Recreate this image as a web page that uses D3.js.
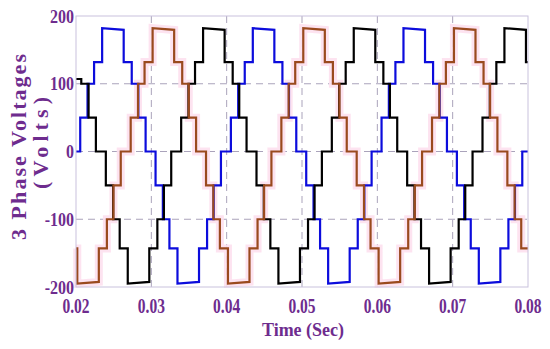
<!DOCTYPE html>
<html><head><meta charset="utf-8">
<script src="https://cdn.jsdelivr.net/npm/d3@7"></script>
<style>body{margin:0;background:#fff}svg{display:block}</style>
</head><body>
<svg id="c" width="550" height="349"></svg>
<script>
// x: time (s), y: volts. Each series: segment start times (last = end) and level per segment;
// a pair [a,b] means the level drifts from a to b across that segment.
const xTicks = [0.02, 0.03, 0.04, 0.05, 0.06, 0.07, 0.08];
const xTickLabels = ["0.02", "0.03", "0.04", "0.05", "0.06", "0.07", "0.08"];
const yTicks = [-200, -100, 0, 100, 200];
const yTickLabels = ["-200", "-100", "0", "100", "200"];

const blueT = [0.02,
  0.02056, 0.02153, 0.02240, 0.02347, 0.02633, 0.02740, 0.02827, 0.02924,
  0.03056, 0.03153, 0.03240, 0.03347, 0.03633, 0.03740, 0.03827, 0.03924,
  0.04056, 0.04153, 0.04240, 0.04347, 0.04633, 0.04740, 0.04827, 0.04924,
  0.05056, 0.05153, 0.05240, 0.05347, 0.05633, 0.05740, 0.05827, 0.05924,
  0.06056, 0.06153, 0.06240, 0.06347, 0.06633, 0.06740, 0.06827, 0.06924,
  0.07056, 0.07153, 0.07240, 0.07347, 0.07633, 0.07740, 0.07827, 0.07924, 0.08];
const blueV = [0,
  50, 100, 132, [182, 179.5], 132, 100, 50, 0,
  -50, -100, -143, [-195, -192.5], -143, -100, -50, 0,
  50, 100, 132, [182, 179.5], 132, 100, 50, 0,
  -50, -100, -143, [-195, -192.5], -143, -100, -50, 0,
  50, 100, 132, [182, 179.5], 132, 100, 50, 0,
  -50, -100, -143, [-195, -192.5], -143, -100, -50, 0];

const redT = [0.02, 0.02017, 0.02303, 0.02410, 0.02497, 0.02594,
  0.02726, 0.02823, 0.02910, 0.03017, 0.03303, 0.03410, 0.03497, 0.03594,
  0.03726, 0.03823, 0.03910, 0.04017, 0.04303, 0.04410, 0.04497, 0.04594,
  0.04726, 0.04823, 0.04910, 0.05017, 0.05303, 0.05410, 0.05497, 0.05594,
  0.05726, 0.05823, 0.05910, 0.06017, 0.06303, 0.06410, 0.06497, 0.06594,
  0.06726, 0.06823, 0.06910, 0.07017, 0.07303, 0.07410, 0.07497, 0.07594,
  0.07726, 0.07823, 0.07910, 0.08];
const redV = [-143, [-195, -192.5], -143, -100, -50, 0,
  50, 100, 132, [182, 179.5], 132, 100, 50, 0,
  -50, -100, -143, [-195, -192.5], -143, -100, -50, 0,
  50, 100, 132, [182, 179.5], 132, 100, 50, 0,
  -50, -100, -143, [-195, -192.5], -143, -100, -50, 0,
  50, 100, 132, [182, 179.5], 132, 100, 50, 0,
  -50, -100, -143];

const blackT = [0.02, 0.0207, 0.02167, 0.02264,
  0.02396, 0.02493, 0.02580, 0.02687, 0.02973, 0.03080, 0.03167, 0.03264,
  0.03396, 0.03493, 0.03580, 0.03687, 0.03973, 0.04080, 0.04167, 0.04264,
  0.04396, 0.04493, 0.04580, 0.04687, 0.04973, 0.05080, 0.05167, 0.05264,
  0.05396, 0.05493, 0.05580, 0.05687, 0.05973, 0.06080, 0.06167, 0.06264,
  0.06396, 0.06493, 0.06580, 0.06687, 0.06973, 0.07080, 0.07167, 0.07264,
  0.07396, 0.07493, 0.07580, 0.07687, 0.07973, 0.08];
const blackV = [107, 100, 50, 0,
  -50, -100, -143, [-195, -192.5], -143, -100, -50, 0,
  50, 100, 132, [182, 179.5], 132, 100, 50, 0,
  -50, -100, -143, [-195, -192.5], -143, -100, -50, 0,
  50, 100, 132, [182, 179.5], 132, 100, 50, 0,
  -50, -100, -143, [-195, -192.5], -143, -100, -50, 0,
  50, 100, 132, [182, 179.5], 132];

const purple = "#6e2c8e";
const svg = d3.select("#c");
const x = d3.scaleLinear().domain([0.02, 0.08]).range([76, 528]);
const y = d3.scaleLinear().domain([-200, 200]).range([287, 16]);

// grid
const g = svg.append("g");
g.selectAll(".gx").data(xTicks.slice(1, -1)).join("line")
  .attr("x1", d => x(d)).attr("x2", d => x(d)).attr("y1", y(200)).attr("y2", y(-200))
  .attr("stroke", "#aaa3bb").attr("stroke-width", 1).attr("stroke-dasharray", "7,5");
g.selectAll(".gy").data(yTicks.slice(1, -1)).join("line")
  .attr("x1", x(0.02)).attr("x2", x(0.08)).attr("y1", d => y(d)).attr("y2", d => y(d))
  .attr("stroke", "#aaa3bb").attr("stroke-width", 1).attr("stroke-dasharray", "7,5");

function verts(T, V) {
  const pts = [];
  for (let i = 0; i < V.length; i++) {
    const a = Array.isArray(V[i]) ? V[i][0] : V[i];
    const b = Array.isArray(V[i]) ? V[i][1] : V[i];
    pts.push([T[i], a], [T[i + 1], b]);
  }
  return pts;
}
const line = d3.line().x(d => x(d[0])).y(d => y(d[1]));

const plot = svg.append("g");
plot.append("path").attr("d", line(verts(redT, redV))).attr("fill", "none")
  .attr("stroke", "#fde0ee").attr("stroke-width", 8).attr("stroke-opacity", 0.9);
plot.append("path").attr("d", line(verts(blueT, blueV))).attr("fill", "none")
  .attr("stroke", "#0c0cdc").attr("stroke-width", 2.2);
plot.append("path").attr("d", line(verts(blackT, blackV))).attr("fill", "none")
  .attr("stroke", "#000").attr("stroke-width", 2.2);
plot.append("path").attr("d", line(verts(redT, redV))).attr("fill", "none")
  .attr("stroke", "#9a4a1e").attr("stroke-width", 2.2);

// frame
svg.append("rect").attr("x", x(0.02)).attr("y", y(200))
  .attr("width", x(0.08) - x(0.02)).attr("height", y(-200) - y(200))
  .attr("fill", "none").attr("stroke", "#c9c2dd").attr("stroke-width", 1);

const font = "'Liberation Serif','Times New Roman',serif";
// y tick labels (glyphs slightly stretched vertically as in the source)
svg.selectAll(".yl").data(yTicks).join("text")
  .attr("transform", d => `translate(74,${y(d) + 6.5}) scale(1,1.2)`)
  .attr("text-anchor", "end").attr("font-family", font).attr("font-weight", "bold")
  .attr("font-size", 16).attr("fill", purple)
  .text((d, i) => yTickLabels[i]);
// x tick labels
svg.selectAll(".xl").data(xTicks).join("text")
  .attr("transform", d => `translate(${x(d)},313) scale(1,1.3)`)
  .attr("text-anchor", "middle").attr("font-family", font).attr("font-weight", "bold")
  .attr("font-size", 15.5).attr("fill", purple)
  .text((d, i) => xTickLabels[i]);

svg.append("text").attr("transform", "translate(303,336) scale(1,1.1)")
  .attr("text-anchor", "middle")
  .attr("font-family", font).attr("font-weight", "bold").attr("font-size", 18)
  .attr("fill", purple).text("Time (Sec)");

svg.append("text").attr("transform", "translate(26,147) rotate(-90)")
  .attr("text-anchor", "middle").attr("font-family", font).attr("font-weight", "bold")
  .attr("font-size", 22).attr("fill", purple)
  .attr("textLength", 186).attr("lengthAdjust", "spacing")
  .text("3 Phase Voltages");
svg.append("text").attr("transform", "translate(48,143) rotate(-90)")
  .attr("text-anchor", "middle").attr("font-family", font).attr("font-weight", "bold")
  .attr("font-size", 22).attr("fill", purple)
  .attr("textLength", 92).attr("lengthAdjust", "spacing")
  .text("(Volts)");
</script>
</body></html>
